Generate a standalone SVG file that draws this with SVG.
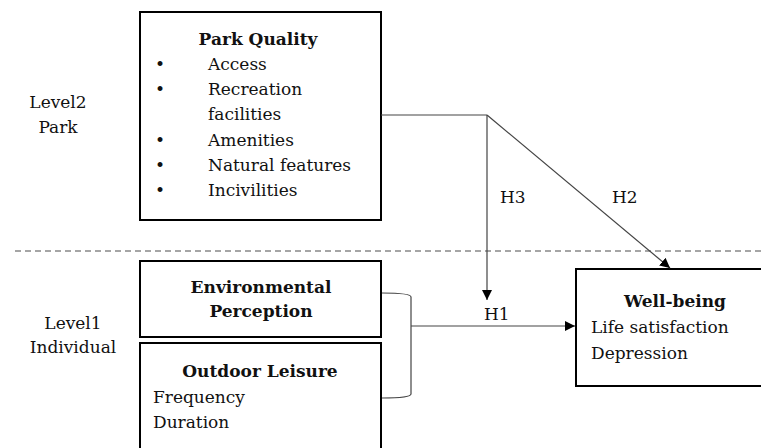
<svg xmlns="http://www.w3.org/2000/svg" width="761" height="448" viewBox="0 0 761 448">
<defs>
<style>
text{font-family:"DejaVu Serif","Liberation Serif",serif;font-size:17px;fill:#111}
.b{font-weight:bold}
.box{fill:#fff;stroke:#000;stroke-width:2}
.c{fill:none;stroke:#444;stroke-width:1.2}
</style>
<marker id="ah" viewBox="0 0 10 10" refX="10" refY="5" markerWidth="10" markerHeight="10" markerUnits="userSpaceOnUse" orient="auto"><path d="M0,0 L10,5 L0,10 z" fill="#000"/></marker>
</defs>
<rect width="761" height="448" fill="#fff"/>
<line x1="15" y1="251" x2="761" y2="251" stroke="#888" stroke-width="1.5" stroke-dasharray="6,4"/>
<g id="level2">
<text x="58" y="108" text-anchor="middle">Level2</text>
<text x="58" y="133" text-anchor="middle">Park</text>
</g>
<g id="level1">
<text x="73" y="329" text-anchor="middle">Level1</text>
<text x="73" y="353" text-anchor="middle">Individual</text>
</g>
<g id="park-quality">
<rect class="box" x="140" y="12" width="241" height="208"/>
<text class="b" x="258" y="45" text-anchor="middle">Park Quality</text>
<text x="155" y="70">•</text><text x="208" y="70">Access</text>
<text x="155" y="95">•</text><text x="208" y="95">Recreation</text>
<text x="208" y="120">facilities</text>
<text x="155" y="146">•</text><text x="208" y="146">Amenities</text>
<text x="155" y="171">•</text><text x="208" y="171">Natural features</text>
<text x="155" y="196">•</text><text x="208" y="196">Incivilities</text>
</g>
<g id="environmental-perception">
<rect class="box" x="140" y="261" width="241" height="76"/>
<text class="b" x="261" y="293" text-anchor="middle">Environmental</text>
<text class="b" x="261" y="317" text-anchor="middle">Perception</text>
</g>
<g id="outdoor-leisure">
<rect class="box" x="140" y="343" width="241" height="120"/>
<text class="b" x="260" y="377" text-anchor="middle">Outdoor Leisure</text>
<text x="153" y="403">Frequency</text>
<text x="153" y="428">Duration</text>
</g>
<g id="well-being">
<rect class="box" x="576" y="269" width="190" height="117"/>
<text class="b" x="675" y="307" text-anchor="middle">Well-being</text>
<text x="591" y="333">Life satisfaction</text>
<text x="591" y="359">Depression</text>
</g>
<g id="connectors">
<path class="c" d="M381,115 H487"/>
<path class="c" d="M487,115 V300" marker-end="url(#ah)"/>
<path class="c" d="M487,115 L670,268" marker-end="url(#ah)"/>
<path class="c" d="M382,293 Q411,293 411,297 V394 Q411,398 382,398"/>
<path class="c" d="M411,326 H575" marker-end="url(#ah)"/>
<text x="500" y="203">H3</text>
<text x="612" y="203">H2</text>
<text x="484" y="320">H1</text>
</g>
</svg>
